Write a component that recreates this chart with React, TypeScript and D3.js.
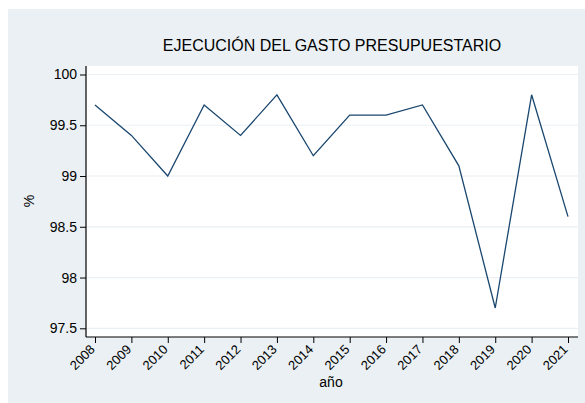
import React, { useRef, useEffect } from "react";
import * as d3 from "d3";

const years = [2008, 2009, 2010, 2011, 2012, 2013, 2014, 2015, 2016, 2017, 2018, 2019, 2020, 2021];
const values = [99.7, 99.4, 99.0, 99.7, 99.4, 99.8, 99.2, 99.6, 99.6, 99.7, 99.1, 97.7, 99.8, 98.6];
const yTicks = [97.5, 98, 98.5, 99, 99.5, 100];

const W = 585;
const H = 403;
const font = "'Liberation Sans', Arial, sans-serif";

export default function App() {
  const ref = useRef<SVGSVGElement>(null);

  useEffect(() => {
    document.body.style.margin = "0";
    const svg = d3.select(ref.current);
    svg.selectChildren().remove();

    // fondo
    svg.append("rect").attr("width", W).attr("height", H).attr("fill", "#ffffff");
    svg.append("rect").attr("x", 8).attr("y", 9).attr("width", W - 8).attr("height", H - 9).attr("fill", "#eaf0f3");

    const plot = { left: 86, right: 578, top: 66, bottom: 337 };
    svg
      .append("rect")
      .attr("x", plot.left)
      .attr("y", plot.top)
      .attr("width", plot.right - plot.left)
      .attr("height", plot.bottom - plot.top)
      .attr("fill", "#ffffff");

    const x = d3.scaleLinear().domain([2008, 2021]).range([95, 568]);
    const y = d3.scaleLinear().domain([97.5, 100]).range([328.3, 74.5]);

    // rejilla
    svg
      .append("g")
      .selectAll("line")
      .data(yTicks)
      .enter()
      .append("line")
      .attr("x1", plot.left + 1)
      .attr("x2", plot.right)
      .attr("y1", (d) => y(d))
      .attr("y2", (d) => y(d))
      .attr("stroke", "#eaf0f3")
      .attr("stroke-width", 1.2);

    // eje Y
    const gy = svg
      .append("g")
      .attr("transform", `translate(${plot.left},0)`)
      .call(d3.axisLeft(y).tickValues(yTicks).tickSize(6).tickPadding(3).tickFormat((d) => String(d)));
    gy.select(".domain").attr("d", `M0,${plot.top}V${plot.bottom}`).attr("stroke", "#000").attr("stroke-width", 1.2);
    gy.selectAll(".tick line").attr("stroke", "#000");
    gy.selectAll(".tick text").attr("font-family", font).attr("font-size", 14).attr("fill", "#000");

    // eje X
    const gx = svg
      .append("g")
      .attr("transform", `translate(0,${plot.bottom})`)
      .call(d3.axisBottom(x).tickValues(years).tickSize(6).tickFormat((d) => String(d)));
    gx.select(".domain").attr("d", `M${plot.left},0H${plot.right}`).attr("stroke", "#000").attr("stroke-width", 1.2);
    gx.selectAll(".tick line").attr("stroke", "#000");
    gx.selectAll(".tick text")
      .attr("font-family", font)
      .attr("font-size", 13)
      .attr("fill", "#000")
      .attr("text-anchor", "end")
      .attr("dy", "0.35em")
      .attr("y", 0)
      .attr("transform", "translate(-3,10) rotate(-45)");

    // línea
    const line = d3
      .line<number>()
      .x((_, i) => x(years[i]))
      .y((d) => y(d));
    svg
      .append("path")
      .datum(values)
      .attr("d", line)
      .attr("fill", "none")
      .attr("stroke", "#1a476f")
      .attr("stroke-width", 1.3);

    // títulos
    svg
      .append("text")
      .attr("x", 332)
      .attr("y", 51)
      .attr("text-anchor", "middle")
      .attr("font-family", font)
      .attr("font-size", 16)
      .text("EJECUCIÓN DEL GASTO PRESUPUESTARIO");

    svg
      .append("text")
      .attr("transform", "translate(34,201) rotate(-90)")
      .attr("text-anchor", "middle")
      .attr("font-family", font)
      .attr("font-size", 14)
      .text("%");

    svg
      .append("text")
      .attr("x", 331)
      .attr("y", 387)
      .attr("text-anchor", "middle")
      .attr("font-family", font)
      .attr("font-size", 14)
      .text("año");
  }, []);

  return <svg ref={ref} width={W} height={H} style={{ display: "block" }} />;
}
